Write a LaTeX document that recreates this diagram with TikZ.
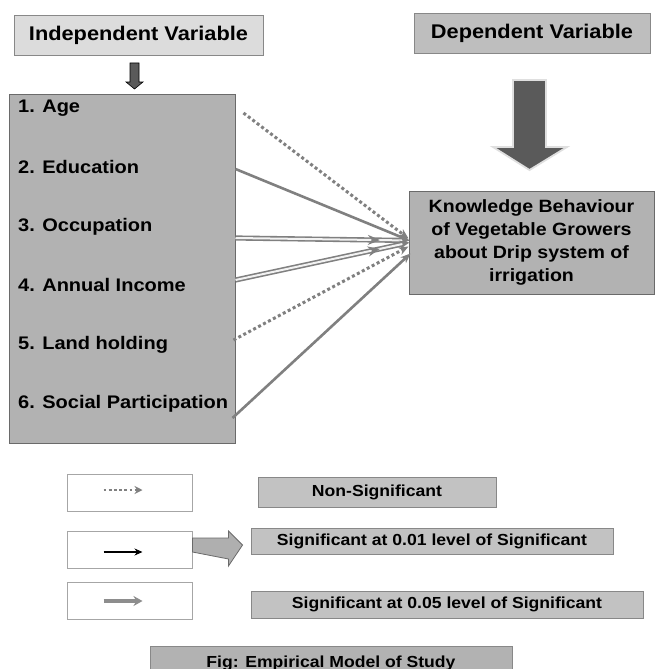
\documentclass[tikz,border=0pt]{standalone}
\usepackage{fontspec}
\setmainfont{Liberation Sans}[FakeStretch=1.1]
\usetikzlibrary{arrows.meta,decorations.markings,calc}
\definecolor{lightbox}{HTML}{DCDCDC}
\definecolor{midbox}{HTML}{BEBEBE}
\definecolor{bigfill}{HTML}{B2B2B2}
\definecolor{edgec}{HTML}{6A6A6A}
\definecolor{conn}{HTML}{808080}
\definecolor{darkarrow}{HTML}{5A5A5A}
\definecolor{legfill}{HTML}{C2C2C2}
\tikzset{
  hdr/.style={draw=edgec!80, line width=0.9pt, inner sep=0pt, font=\fontsize{19.8}{22}\selectfont\bfseries},
  itemtext/.style={anchor=west, inner sep=0pt, font=\fontsize{18.2}{20}\selectfont\bfseries},
  legtext/.style={draw=edgec!80, fill=legfill, line width=0.9pt, inner sep=0pt, font=\fontsize{16}{18}\selectfont\bfseries},
  legbox/.style={draw=gray!70, fill=white, line width=0.9pt, inner sep=0pt, minimum width=125pt, minimum height=37pt},
  tip/.style={-{Stealth[length=10pt,width=8pt]}},
  conline/.style={draw=conn, line width=2.6pt, tip},
  condot/.style={draw=conn, line width=3pt, dash pattern=on 3pt off 2.6pt, tip},
  condouble/.style={draw=conn, line width=1.6pt, double=gray!10, double distance=2pt, tip,
    postaction={decorate}, decoration={markings, mark=at position 0.83 with {\arrow[conn]{Stealth[length=12pt,width=10pt]}}}},
}
\begin{document}
\begin{tikzpicture}[x=1pt,y=-1pt]
\useasboundingbox (0,0) rectangle (654,669);
\fill[white] (0,0) rectangle (654,669);

% headers
\node[hdr, fill=lightbox, minimum width=249pt, minimum height=40pt] (indep) at (138.5,35) {Independent Variable};
\node[hdr, fill=midbox, minimum width=236pt, minimum height=40pt] (dep) at (532,33) {Dependent Variable};

% big independent box
\node[draw=edgec, fill=bigfill, line width=1pt, minimum width=226pt, minimum height=349pt, inner sep=0pt] (ivbox) at (122,268.5) {};

% small arrow
\filldraw[fill=darkarrow, draw=black, line width=0.6pt]
  (130,63) -- (139,63) -- (139,82) -- (143,82) -- (134.5,89) -- (126,82) -- (130,82) -- cycle;

% big arrow
\filldraw[fill=darkarrow, draw=gray!25, line width=1.8pt]
  (513,80) -- (546,80) -- (546,147) -- (567,147) -- (529.5,170) -- (493,147) -- (513,147) -- cycle;

% items
\node[itemtext] (age) at (18,108) {1. Age};
\node[itemtext] (edu) at (18,167) {2. Education};
\node[itemtext] (occ) at (18,227) {3. Occupation};
\node[itemtext] (inc) at (18,285) {4. Annual Income};
\node[itemtext] (land) at (18,345) {5. Land holding};
\node[itemtext] (soc) at (18,404) {6. Social Participation};

% dependent box
\node[draw=edgec, fill=bigfill, line width=1pt, minimum width=245pt, minimum height=103pt, inner sep=0pt,
  align=center, font=\fontsize{17.8}{23}\selectfont\bfseries] (kb) at (531.5,242.5)
  {Knowledge Behaviour\\of Vegetable Growers\\about Drip system of\\irrigation};

% connectors
\draw[condot] ($(age -| ivbox.east)+(8,5)$) -- ($(kb.west)+(0,-4)$);
\draw[conline] ($(edu -| ivbox.east)+(0,2)$) -- ($(kb.west)+(1,-2)$);
\draw[condouble] ($(occ -| ivbox.east)+(0,11)$) -- ($(kb.west)+(1,-2)$);
\draw[condouble] ($(inc -| ivbox.east)+(0,-5)$) -- ($(kb.west)+(1,0)$);
\draw[condot] ($(land -| ivbox.east)+(-2,-5)$) -- ($(kb.west)+(0,4)$);
\draw[conline] ($(soc -| ivbox.east)+(-3,14)$) -- ($(kb.west)+(2,11)$);

% legend
\node[legbox] (lg1) at (129.5,492.5) {};
\node[legbox] (lg2) at (129.5,550) {};
\node[legbox] (lg3) at (129.5,601) {};
\draw[draw=conn, line width=2.8pt, dash pattern=on 2.8pt off 2.4pt, -{Stealth[length=8pt,width=8pt]}]
  ($(lg1.center)+(-26,-2.5)$) -- ($(lg1.center)+(13,-2.5)$);
\draw[draw=black, line width=1.8pt, -{Stealth[length=8pt,width=7pt]}]
  ($(lg2.center)+(-26,2)$) -- ($(lg2.center)+(13,2)$);
\draw[draw=conn!90, line width=3.6pt, -{Stealth[length=9pt,width=10pt]}]
  ($(lg3.center)+(-26,0)$) -- ($(lg3.center)+(13,0)$);

\node[legtext, minimum width=238pt, minimum height=30pt] (ns) at (377,492) {Non-Significant};
\node[legtext, minimum width=362pt, minimum height=26pt] (s01) at (432,541) {Significant at 0.01 level of Significant};
\node[legtext, minimum width=392pt, minimum height=27pt] (s05) at (447,604.5) {Significant at 0.05 level of Significant};

% block arrow legend
\filldraw[fill=legfill!90!black, draw=edgec, line width=0.8pt]
  ($(lg2.east)+(0,-12)$) -- ++(36,0) -- ++(0,-7) -- ($(s01.west)+(-8,4)$) -- ($(lg2.east)+(36,16)$) -- ++(0,-7) -- ($(lg2.east)+(0,2)$) -- cycle;

% caption
\node[legtext, fill=bigfill, minimum width=362pt, minimum height=34pt] (cap) at (331,663) {Fig: Empirical Model of Study};
\end{tikzpicture}
\end{document}
